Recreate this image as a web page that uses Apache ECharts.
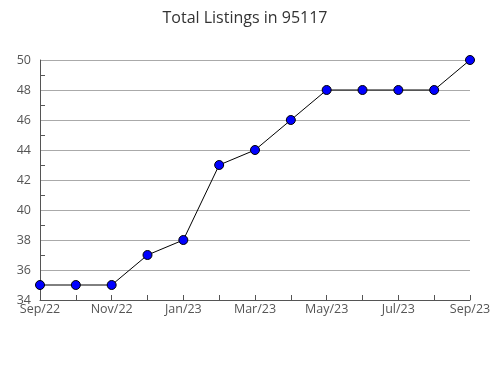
<!DOCTYPE html>
<html><head><meta charset="utf-8">
<script src="https://cdn.jsdelivr.net/npm/echarts@6/dist/echarts.min.js"></script>
<style>html,body{margin:0;padding:0;background:#fff}#c{width:490px;height:380px}</style>
</head><body><div id="c"></div>
<script>
const categories = ['Sep/22','Oct/22','Nov/22','Dec/22','Jan/23','Feb/23','Mar/23','Apr/23','May/23','Jun/23','Jul/23','Aug/23','Sep/23'];
const listings = [35,35,35,37,38,43,44,46,48,48,48,48,50];
const yTicks = {min:34, max:50, interval:2};
const yMinorTicks = [35,37,39,41,43,45,47,49];
const title = 'Total Listings in 95117';

const chart = echarts.init(document.getElementById('c'));
const font = '"Open Sans", sans-serif';
chart.setOption({
  animation:false,
  title:{text:title,left:'center',top:5,textStyle:{fontFamily:font,fontSize:16,fontWeight:'normal',color:'#333'}},
  grid:{left:40,right:20,top:60,bottom:80,containLabel:false,outerBoundsMode:'none'},
  xAxis:{type:'category',data:categories,boundaryGap:false,
    axisLine:{lineStyle:{color:'#555'}},
    axisTick:{show:true,inside:true,length:5,interval:0,lineStyle:{color:'#555'}},
    axisLabel:{interval:1,color:'#555',fontFamily:font,fontSize:12.5,margin:3,hideOverlap:false},
    splitLine:{show:false}},
  yAxis:[{type:'value',min:yTicks.min,max:yTicks.max,interval:yTicks.interval,
    axisLine:{show:true,lineStyle:{color:'#555'}},
    axisTick:{show:false},
    axisLabel:{color:'#555',fontFamily:font,fontSize:12.5,margin:9},
    splitLine:{show:true,lineStyle:{color:'#aaa'}}},
   {type:'value',position:'left',offset:0,min:yTicks.min,max:yTicks.max,
    axisLine:{show:false},
    axisTick:{show:true,inside:true,length:5,customValues:yMinorTicks,lineStyle:{color:'#555'}},
    axisLabel:{show:false},
    splitLine:{show:false}}],
  series:[{type:'line',data:listings,symbol:'circle',symbolSize:9,
    lineStyle:{color:'#000',width:1},
    itemStyle:{color:'#0000ff',borderColor:'#000',borderWidth:1}}]
});
</script></body></html>
